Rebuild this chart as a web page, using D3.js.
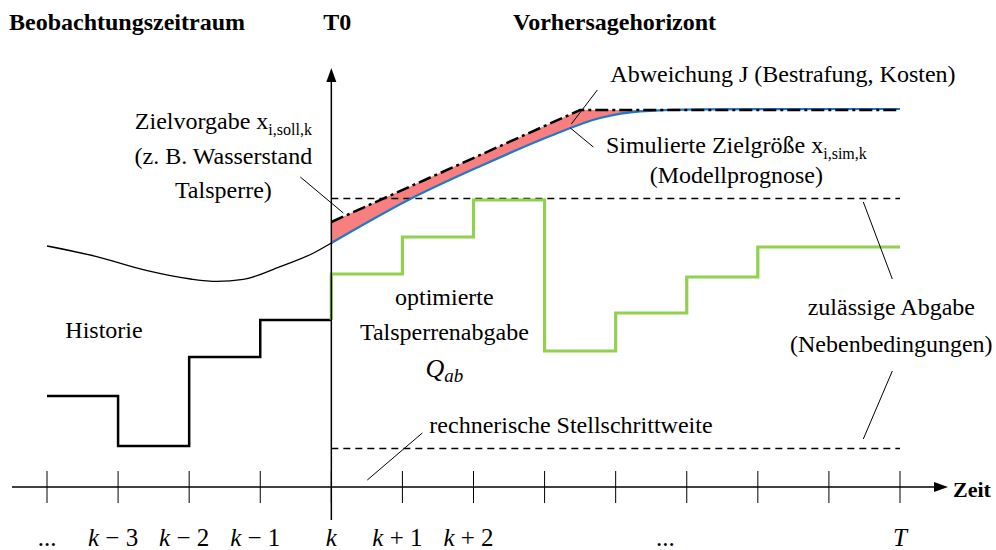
<!DOCTYPE html>
<html>
<head>
<meta charset="utf-8">
<script src="https://cdn.jsdelivr.net/npm/d3@7"></script>
<style>
  body { margin: 0; background: #fff; }
  text { font-family: "Liberation Serif", "Times New Roman", serif; fill: #000; }
</style>
</head>
<body>
<script>
// time axis, in steps relative to k (T0)
var tickSteps = [-4, -3, -2, -1, 0, 1, 2, 3, 4, 5, 6, 7, 8];
var labelSteps = [-4, -3, -2, -1, 0, 1, 2, 4.7, 8];
var labelVar = ["...", "k", "k", "k", "k", "k", "k", "...", "T"];
var labelOp = ["", " \u2212 3", " \u2212 2", " \u2212 1", "", " + 1", " + 2", "", ""];

// observed release (Historie), one value per step
var historySteps = [-4, -3, -2, -1, 0];
var historyValues = [22.75, 10.25, 32.5, 41.75, 41.75];

// optimised release Q_ab, one value per step
var releaseSteps = [0, 0, 1, 2, 3, 4, 5, 6, 8];
var releaseValues = [41.75, 53.25, 62.5, 71.75, 34, 43.5, 52.5, 60, 60];

// observed target quantity before T0
var pastX = [-4, -3.3, -2.59, -1.98, -1.61, -1.24, -0.72, -0.25, 0];
var pastY = [60.25, 57.6, 54.1, 52, 51.4, 51.9, 55.1, 58.5, 61];

// simulated target quantity x_i,sim,k
var simX = [0, 1.11, 2.1, 3.08, 3.78, 4.35, 5.19, 8];
var simY = [61, 72, 80.25, 87.75, 92.25, 93.9, 94.4, 94.5];

// target x_i,soll,k
var targetX = [0, 3.5, 8];
var targetY = [66.25, 94.25, 94.25];

// release limits
var upperLimit = 72.25;
var lowerLimit = 9.75;

var width = 996, height = 550;

var svg = d3.select("body").append("svg")
    .attr("width", width)
    .attr("height", height);

var x = d3.scaleLinear().domain([-4, 8]).range([47, 900]);
var y = d3.scaleLinear().domain([0, 100]).range([487, 87]);

// titles
svg.append("text").attr("x", 9).attr("y", 30)
    .style("font-size", "24px").style("font-weight", "bold")
    .text("Beobachtungszeitraum");
svg.append("text").attr("x", x(0) + 6).attr("y", 30)
    .attr("text-anchor", "middle")
    .style("font-size", "24px").style("font-weight", "bold")
    .text("T0");
svg.append("text").attr("x", 513).attr("y", 30)
    .style("font-size", "24px").style("font-weight", "bold")
    .text("Vorhersagehorizont");

// red area between target and simulation
var clipArea = d3.area()
    .x(function (d, i) { return x(simX[i]); })
    .y0(0)
    .y1(function (d) { return y(d); })
    .curve(d3.curveMonotoneX);
svg.append("clipPath").attr("id", "aboveSim")
  .append("path")
    .attr("d", clipArea(simY));

var targetArea = d3.area()
    .x(function (d, i) { return x(targetX[i]); })
    .y0(function (d) { return y(d); })
    .y1(y(0));
svg.append("path")
    .attr("d", targetArea(targetY))
    .attr("clip-path", "url(#aboveSim)")
    .attr("fill", "#f77f7f");

// limit lines
[upperLimit, lowerLimit].forEach(function (v) {
  var yy = Math.round(y(v)) + 0.5;
  svg.append("line")
      .attr("x1", x(0)).attr("x2", x(8))
      .attr("y1", yy).attr("y2", yy)
      .attr("stroke", "#000")
      .attr("stroke-width", 1.3)
      .attr("stroke-dasharray", "7,5");
});

// past curve
var smooth = d3.line()
    .x(function (d) { return x(d[0]); })
    .y(function (d) { return y(d[1]); })
    .curve(d3.curveMonotoneX);
svg.append("path")
    .attr("d", smooth(d3.zip(pastX, pastY)))
    .attr("fill", "none")
    .attr("stroke", "#000")
    .attr("stroke-width", 1.3);

// simulated
svg.append("path")
    .attr("d", smooth(d3.zip(simX, simY)))
    .attr("fill", "none")
    .attr("stroke", "#1f78c8")
    .attr("stroke-width", 2.2);

// target, dash-dot
var straight = d3.line()
    .x(function (d) { return x(d[0]); })
    .y(function (d) { return y(d[1]); });
svg.append("path")
    .attr("d", straight(d3.zip(targetX, targetY)))
    .attr("fill", "none")
    .attr("stroke", "#000")
    .attr("stroke-width", 2.5)
    .attr("stroke-dasharray", "13,4,3,4");

// step lines
var step = d3.line()
    .x(function (d) { return x(d[0]); })
    .y(function (d) { return y(d[1]); })
    .curve(d3.curveStepAfter);
svg.append("path")
    .attr("d", step(d3.zip(historySteps, historyValues)))
    .attr("fill", "none")
    .attr("stroke", "#000")
    .attr("stroke-width", 2.5);
svg.append("path")
    .attr("d", step(d3.zip(releaseSteps, releaseValues)))
    .attr("fill", "none")
    .attr("stroke", "#92d050")
    .attr("stroke-width", 3.2);

// axes
svg.append("line")
    .attr("x1", 12).attr("x2", 940)
    .attr("y1", y(0)).attr("y2", y(0))
    .attr("stroke", "#000").attr("stroke-width", 1.5);
svg.append("path")
    .attr("d", "M948," + y(0) + "L934," + (y(0) - 5) + "L934," + (y(0) + 5) + "Z")
    .attr("fill", "#000");
svg.append("line")
    .attr("x1", x(0)).attr("x2", x(0))
    .attr("y1", 520).attr("y2", 78)
    .attr("stroke", "#000").attr("stroke-width", 1.5);
svg.append("path")
    .attr("d", "M" + x(0) + ",68L" + (x(0) - 5) + ",82L" + (x(0) + 5) + ",82Z")
    .attr("fill", "#000");

svg.selectAll(".tick")
    .data(tickSteps)
    .enter()
    .append("line")
    .attr("x1", function (d) { return x(d); })
    .attr("x2", function (d) { return x(d); })
    .attr("y1", y(0) - 16)
    .attr("y2", y(0) + 16)
    .attr("stroke", "#000")
    .attr("stroke-width", 1);

svg.append("text").attr("x", 953).attr("y", y(0) + 10)
    .style("font-size", "22px").style("font-weight", "bold")
    .text("Zeit");

var tl = svg.selectAll(".tlabel")
    .data(labelSteps)
    .enter()
    .append("text")
    .attr("x", function (d, i) { return x(d) - (labelOp[i] ? 5 : 0); })
    .attr("y", 546)
    .attr("text-anchor", "middle")
    .style("font-size", "25px");
tl.append("tspan")
    .style("font-style", function (d, i) { return labelVar[i] == "..." ? "normal" : "italic"; })
    .text(function (d, i) { return labelVar[i]; });
tl.append("tspan")
    .attr("xml:space", "preserve")
    .style("white-space", "pre")
    .text(function (d, i) { return labelOp[i]; });

// leader lines [x1, y1, x2, y2] in data units
var leaders = [
  [-0.436, 77.5, 0.169, 68.5],
  [3.742, 99.25, 3.376, 90.75],
  [3.362, 89.75, 3.686, 85],
  [7.484, 71.25, 7.892, 52],
  [7.892, 29, 7.484, 12],
  [1.28, 13.5, 0.506, 1.75]
];
svg.selectAll(".leader")
    .data(leaders)
    .enter()
    .append("line")
    .attr("x1", function (d) { return x(d[0]); })
    .attr("y1", function (d) { return y(d[1]); })
    .attr("x2", function (d) { return x(d[2]); })
    .attr("y2", function (d) { return y(d[3]); })
    .attr("stroke", "#000")
    .attr("stroke-width", 1);

// annotation text
function note(xv, yv, anchor, str) {
  return svg.append("text")
      .attr("x", x(xv)).attr("y", y(yv))
      .attr("text-anchor", anchor)
      .style("font-size", "24px")
      .text(str);
}

var z = note(-1.519, 89.5, "middle", "Zielvorgabe x");
z.append("tspan").attr("dy", 6).style("font-size", "16px").text("i,soll,k");
note(-1.519, 80.75, "middle", "(z. B. Wasserstand");
note(-1.519, 72.25, "middle", "Talsperre)");

note(3.925, 101.25, "start", "Abweichung J (Bestrafung, Kosten)");

var s = note(5.698, 83.5, "middle", "Simulierte Zielgröße x");
s.append("tspan").attr("dy", 6).style("font-size", "16px").text("i,sim,k");
note(5.698, 76, "middle", "(Modellprognose)");

note(1.59, 45.5, "middle", "optimierte");
note(1.59, 36.75, "middle", "Talsperrenabgabe");
var q = note(1.59, 27.5, "middle", "");
q.append("tspan").style("font-style", "italic").style("font-size", "26px").text("Q");
q.append("tspan").attr("dy", 5).style("font-style", "italic").style("font-size", "19px").text("ab");

note(-3.742, 37.25, "start", "Historie");
note(1.379, 13.5, "start", "rechnerische Stellschrittweite");
note(7.878, 43, "middle", "zulässige Abgabe");
note(7.878, 33.75, "middle", "(Nebenbedingungen)");
</script>
</body>
</html>
